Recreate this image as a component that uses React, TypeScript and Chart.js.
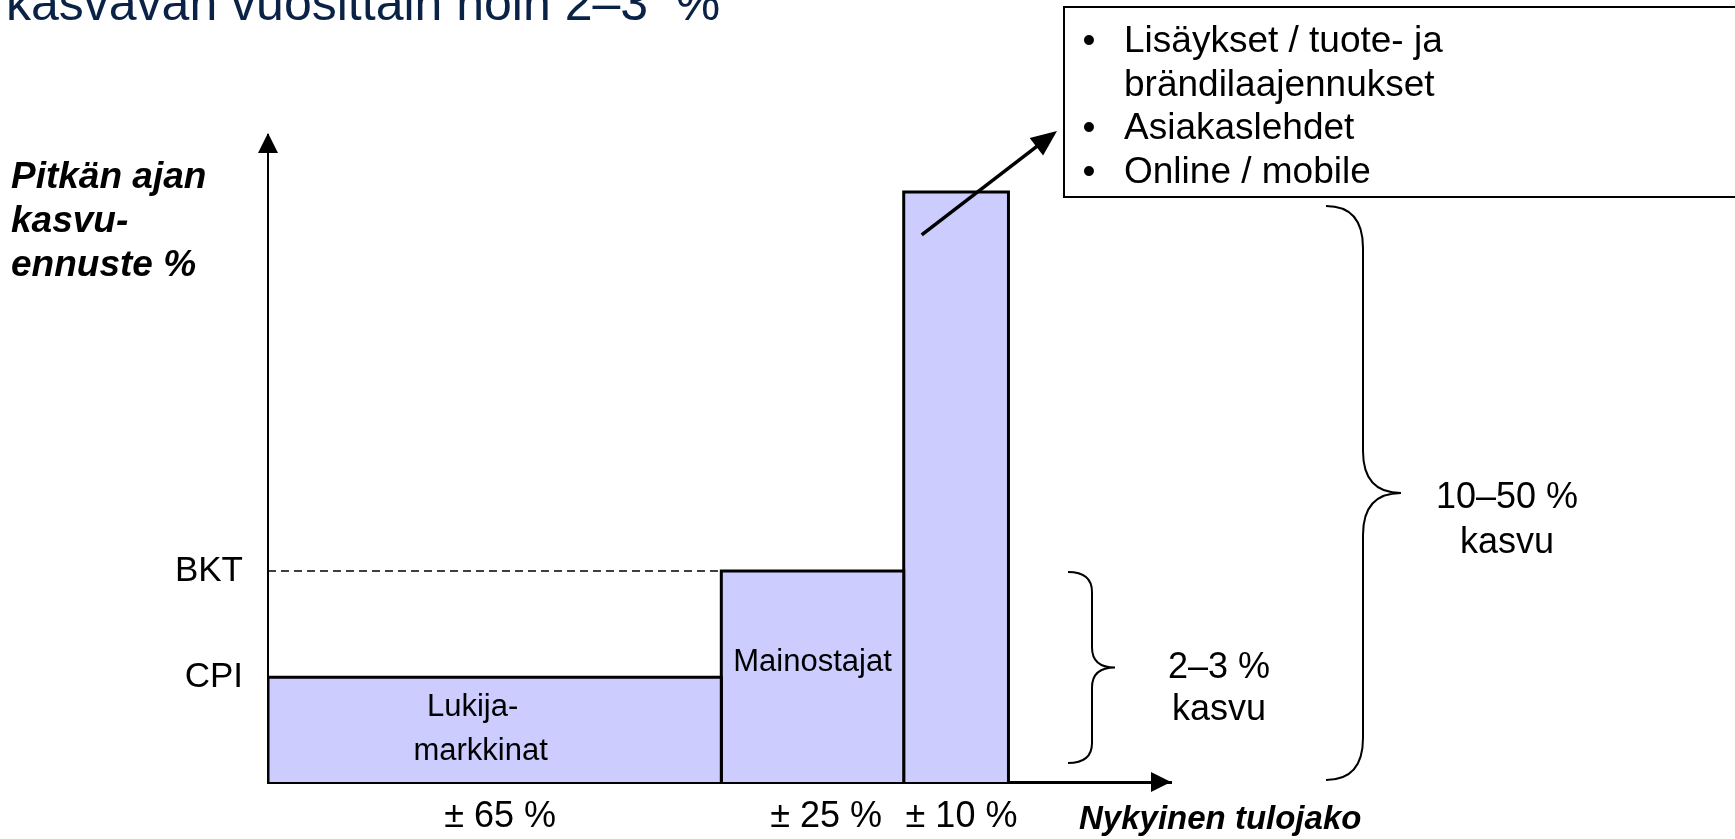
import React, { useEffect, useRef } from 'react';
import { Chart, registerables } from 'chart.js';

Chart.register(...registerables);

// ---- data ----
const segmentNames: string[][] = [['Lukija-', 'markkinat'], ['Mainostajat'], []];
const revenueShareLabels = ['± 65 %', '± 25 %', '± 10 %'];
const segmentWidths = [50.2, 20.2, 11.6];
const growthLevels = [16.2, 32.6, 91.2];
const referenceLabels = ['CPI', 'BKT'];
const referenceLevels = [16.2, 32.6];
const braceLabels: string[][] = [['2–3 %', 'kasvu'], ['10–50 %', 'kasvu']];
const boxItems: string[][] = [['Lisäykset / tuote- ja', 'brändilaajennukset'], ['Asiakaslehdet'], ['Online / mobile']];
const titleText = 'kasvavan vuosittain noin 2–3  %';
const yAxisTitle = ['Pitkän ajan', 'kasvu-', 'ennuste %'];
const xAxisTitle = 'Nykyinen tulojako';

const FONT = '"Liberation Sans", Arial, Helvetica, sans-serif';
const BAR_FILL = '#ccccff';

const starts: number[] = [];
const ends: number[] = [];
segmentWidths.reduce((acc, w) => {
  starts.push(acc);
  ends.push(acc + w);
  return acc + w;
}, 0);
const centers = starts.map((s, i) => (s + ends[i]) / 2);
// small horizontal nudges of the share labels (in x-scale units)
const shareLabelNudge = [0.6, 1.5, 0.6];

function drawBrace(ctx: CanvasRenderingContext2D, x0: number, xv: number, xt: number, top: number, bottom: number, r: number) {
  const mid = (top + bottom) / 2;
  ctx.beginPath();
  ctx.moveTo(x0, top);
  ctx.quadraticCurveTo(xv, top, xv, top + r);
  ctx.lineTo(xv, mid - r);
  ctx.quadraticCurveTo(xv, mid, xt, mid);
  ctx.quadraticCurveTo(xv, mid, xv, mid + r);
  ctx.lineTo(xv, bottom - r);
  ctx.quadraticCurveTo(xv, bottom, x0, bottom);
  ctx.stroke();
}

function arrowHead(ctx: CanvasRenderingContext2D, tipX: number, tipY: number, angle: number, len: number, half: number) {
  ctx.save();
  ctx.translate(tipX, tipY);
  ctx.rotate(angle);
  ctx.beginPath();
  ctx.moveTo(0, 0);
  ctx.lineTo(-len, -half);
  ctx.lineTo(-len, half);
  ctx.closePath();
  ctx.fill();
  ctx.restore();
}

const annotations = {
  id: 'annotations',
  afterDraw(chart: any) {
    const ctx: CanvasRenderingContext2D = chart.ctx;
    const xs = chart.scales.x;
    const ys = chart.scales.y;
    const area = chart.chartArea;
    ctx.save();
    ctx.fillStyle = '#000';
    ctx.strokeStyle = '#000';

    // axis arrow heads
    arrowHead(ctx, area.left, area.top - 2, -Math.PI / 2, 20, 10);
    arrowHead(ctx, area.right, area.bottom, 0, 20, 10);

    // title (cut off at the top edge)
    ctx.fillStyle = '#0a2245';
    ctx.font = `50px ${FONT}`;
    ctx.textAlign = 'left';
    ctx.textBaseline = 'alphabetic';
    ctx.fillText(titleText, 6, 20);

    // axis titles
    ctx.fillStyle = '#000';
    ctx.font = `italic bold 37px ${FONT}`;
    ctx.textBaseline = 'middle';
    yAxisTitle.forEach((t, i) => ctx.fillText(t, 11, 178 + i * 44));
    ctx.font = `italic bold 33px ${FONT}`;
    ctx.fillText(xAxisTitle, 1079, 820);

    // labels inside bars
    ctx.textAlign = 'center';
    ctx.font = `31px ${FONT}`;
    segmentNames.forEach((lines, i) => {
      if (!lines.length) return;
      const cx = xs.getPixelForValue(centers[i]);
      const top = ys.getPixelForValue(growthLevels[i]);
      const bottom = ys.getPixelForValue(0);
      let cy = (top + bottom) / 2;
      if (lines.length === 1) cy -= 14;
      const lh = 44;
      lines.forEach((t, j) => {
        const dx = lines.length > 1 ? (j === 0 ? -22 : -14) : 0;
        ctx.fillText(t, cx + dx, cy + (j - (lines.length - 1) / 2) * lh);
      });
    });

    // arrow from the third bar to the box
    const b3left = xs.getPixelForValue(starts[2]);
    const b3top = ys.getPixelForValue(growthLevels[2]);
    const sx = b3left + 18;
    const sy = b3top + 43;
    const tx = 1057;
    const ty = 131;
    const ang = Math.atan2(ty - sy, tx - sx);
    ctx.lineWidth = 3.5;
    ctx.beginPath();
    ctx.moveTo(sx, sy);
    ctx.lineTo(tx - Math.cos(ang) * 18, ty - Math.sin(ang) * 18);
    ctx.stroke();
    arrowHead(ctx, tx, ty, ang, 26, 11);

    // box
    ctx.lineWidth = 2;
    ctx.fillStyle = '#fff';
    ctx.fillRect(1064, 7, 700, 190);
    ctx.strokeRect(1064, 7, 700, 190);
    ctx.fillStyle = '#000';
    ctx.font = `37px ${FONT}`;
    ctx.textBaseline = 'middle';
    let line = 0;
    boxItems.forEach((item) => {
      item.forEach((t, j) => {
        const y = 42 + line * 43.5;
        if (j === 0) {
          ctx.textAlign = 'center';
          ctx.fillText('•', 1089, y);
        }
        ctx.textAlign = 'left';
        ctx.fillText(t, 1124, y);
        line++;
      });
    });

    // braces
    ctx.lineWidth = 2;
    const y0 = ys.getPixelForValue(0);
    const yBkt = ys.getPixelForValue(referenceLevels[1]);
    const yTop = ys.getPixelForValue(growthLevels[2]);
    drawBrace(ctx, 1068, 1092, 1115, yBkt + 1, y0 - 19, 20);
    drawBrace(ctx, 1326, 1363, 1401, yTop + 14, y0 - 2, 42);
    ctx.textAlign = 'center';
    ctx.font = `36px ${FONT}`;
    const smallMid = (yBkt + 1 + y0 - 19) / 2;
    const bigMid = (yTop + 14 + y0 - 2) / 2;
    braceLabels[0].forEach((t, j) => ctx.fillText(t, 1219, smallMid + 1 + j * 42));
    braceLabels[1].forEach((t, j) => ctx.fillText(t, 1507, bigMid + 5 + j * 45));

    ctx.restore();
  },
};

export default function App() {
  const ref = useRef<HTMLCanvasElement>(null);
  useEffect(() => {
    if (!ref.current) return;
    const barSets = growthLevels.map((h, i) => ({
      label: `bar${i}`,
      data: [
        { x: starts[i], y: 0 },
        { x: starts[i], y: h },
        { x: ends[i], y: h },
        { x: ends[i], y: 0 },
      ],
      fill: 'origin',
      backgroundColor: BAR_FILL,
      borderColor: '#000',
      borderWidth: 3,
      borderJoinStyle: 'miter' as const,
      pointRadius: 0,
      tension: 0,
    }));
    const dashed = {
      label: 'bkt',
      data: [
        { x: 0, y: referenceLevels[1] },
        { x: starts[1], y: referenceLevels[1] },
      ],
      fill: false,
      borderColor: '#000',
      borderWidth: 1.5,
      borderDash: [8, 5],
      pointRadius: 0,
    };
    const chart = new Chart(ref.current, {
      type: 'line',
      data: { datasets: [...barSets, dashed] as any },
      options: {
        animation: false,
        responsive: false,
        events: [],
        layout: { padding: { top: 135, right: 564, left: 0, bottom: 0 } },
        plugins: { legend: { display: false }, tooltip: { enabled: false }, title: { display: false } },
        scales: {
          x: {
            type: 'linear',
            min: 0,
            max: 100,
            z: 1,
            grid: { display: false, drawTicks: false },
            border: { display: true, color: '#000', width: 3 },
            afterFit: (s: any) => { s.height = 57; },
            afterBuildTicks: (s: any) => { s.ticks = centers.map((v, i) => ({ value: v + shareLabelNudge[i] })); },
            ticks: {
              autoSkip: false,
              maxRotation: 0,
              padding: 13,
              color: '#000',
              font: { family: FONT, size: 36 },
              callback: (_v: any, i: number) => revenueShareLabels[i],
            },
          },
          y: {
            type: 'linear',
            min: 0,
            max: 100,
            z: 1,
            grid: { display: false, drawTicks: false },
            border: { display: true, color: '#000', width: 2 },
            afterFit: (s: any) => { s.width = 268; },
            afterBuildTicks: (s: any) => { s.ticks = referenceLevels.map((v) => ({ value: v })); },
            ticks: {
              autoSkip: false,
              padding: 25,
              color: '#000',
              font: { family: FONT, size: 35 },
              callback: (_v: any, i: number) => referenceLabels[i],
            },
          },
        },
      },
      plugins: [annotations],
    });
    return () => chart.destroy();
  }, []);
  return (
    <div style={{ position: 'fixed', left: 0, top: 0, width: 1735, height: 839, overflow: 'hidden', background: '#fff' }}>
      <canvas ref={ref} width={1735} height={839} style={{ width: 1735, height: 839, display: 'block' }} />
    </div>
  );
}
